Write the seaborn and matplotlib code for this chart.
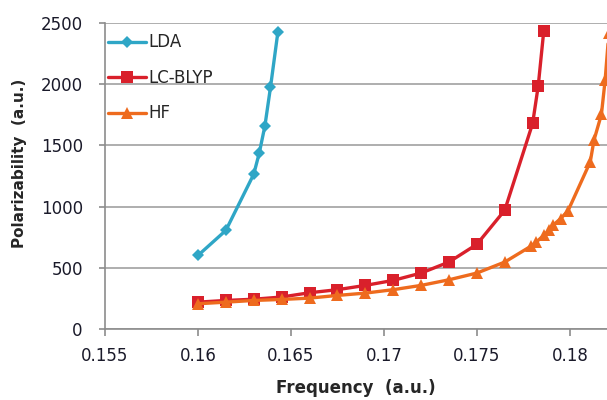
import pandas as pd
import matplotlib.pyplot as plt
import seaborn as sns

# frequencies (a.u.) and polarizabilities (a.u.)
lda_freq = [0.1600, 0.1615, 0.1630, 0.1633, 0.1636, 0.1639, 0.1643]
lda_pol = [600, 805, 1265, 1440, 1660, 1975, 2430]

lcblyp_freq = [0.1600, 0.1615, 0.1630, 0.1645, 0.1660, 0.1675, 0.1690, 0.1705,
               0.1720, 0.1735, 0.1750, 0.1765, 0.1780, 0.1783, 0.1786]
lcblyp_pol = [218, 232, 242, 260, 295, 320, 355, 396,
              456, 546, 691, 970, 1680, 1986, 2439]

hf_freq = [0.1600, 0.1615, 0.1630, 0.1645, 0.1660, 0.1675, 0.1690, 0.1705,
           0.1720, 0.1735, 0.1750, 0.1765, 0.1779, 0.1782, 0.1786, 0.1789,
           0.1791, 0.1795, 0.1799, 0.1811, 0.1813, 0.1817, 0.1819, 0.1821]
hf_pol = [205, 218, 232, 240, 251, 273, 292, 320,
          355, 401, 456, 546, 675, 710, 765, 806,
          847, 901, 964, 1366, 1543, 1754, 2035, 2420]

methods = ['LDA', 'LC-BLYP', 'HF']
colors = {'LDA': '#2FA6C6', 'LC-BLYP': '#D9202B', 'HF': '#EE6B1E'}
markers = {'LDA': 'D', 'LC-BLYP': 's', 'HF': '^'}

df = pd.concat([
    pd.DataFrame({'freq': lda_freq, 'pol': lda_pol, 'method': 'LDA'}),
    pd.DataFrame({'freq': lcblyp_freq, 'pol': lcblyp_pol, 'method': 'LC-BLYP'}),
    pd.DataFrame({'freq': hf_freq, 'pol': hf_pol, 'method': 'HF'}),
], ignore_index=True)

sns.set_style('white')
plt.rcParams['font.family'] = ['DejaVu Sans']

fig = plt.figure(figsize=(6.07, 4.0), dpi=100)
ax = fig.add_axes([0.173, 0.178, 0.827, 0.764])

sizes = {'LDA': 6.5, 'LC-BLYP': 8.5, 'HF': 8.5}
for m in methods:
    sub = df[df['method'] == m]
    sns.lineplot(data=sub, x='freq', y='pol', ax=ax, color=colors[m],
                 marker=markers[m], markersize=sizes[m], markeredgewidth=0,
                 linewidth=2.4, sort=False, label=m)

ax.set_xlim(0.155, 0.182)
ax.set_ylim(0, 2500)
ax.set_xticks([0.155, 0.16, 0.165, 0.17, 0.175, 0.18])
ax.set_xticklabels(['0.155', '0.16', '0.165', '0.17', '0.175', '0.18'])
ax.set_yticks([0, 500, 1000, 1500, 2000, 2500])

ax.yaxis.grid(True, color='#A8A8A8', linewidth=1.3)
ax.xaxis.grid(False)
ax.set_axisbelow(True)

for s in ['top', 'right']:
    ax.spines[s].set_visible(False)
for s in ['left', 'bottom']:
    ax.spines[s].set_color('#8C8C8C')
    ax.spines[s].set_linewidth(1.2)

ax.tick_params(axis='x', direction='out', length=5, width=1.2, color='#8C8C8C',
               pad=8, labelsize=12, labelcolor='#1A1A2A')
ax.tick_params(axis='y', direction='out', length=4, width=1.2, color='#8C8C8C',
               pad=12, labelsize=12, labelcolor='#1A1A2A')
ax.tick_params(bottom=True, left=True)

ax.set_xlabel('Frequency  (a.u.)', fontsize=12, fontweight='bold', labelpad=10)
ax.set_ylabel('Polarizability  (a.u.)', fontsize=11, fontweight='bold')
ax.yaxis.set_label_coords(-0.155, 0.54)

ax.legend(loc='upper left', bbox_to_anchor=(-0.004, 0.983), frameon=False,
          fontsize=12, handlelength=2.3, handletextpad=0.1,
          labelspacing=1.05, borderaxespad=0.1, borderpad=0.2)

fig.savefig('out.png', dpi=100)
